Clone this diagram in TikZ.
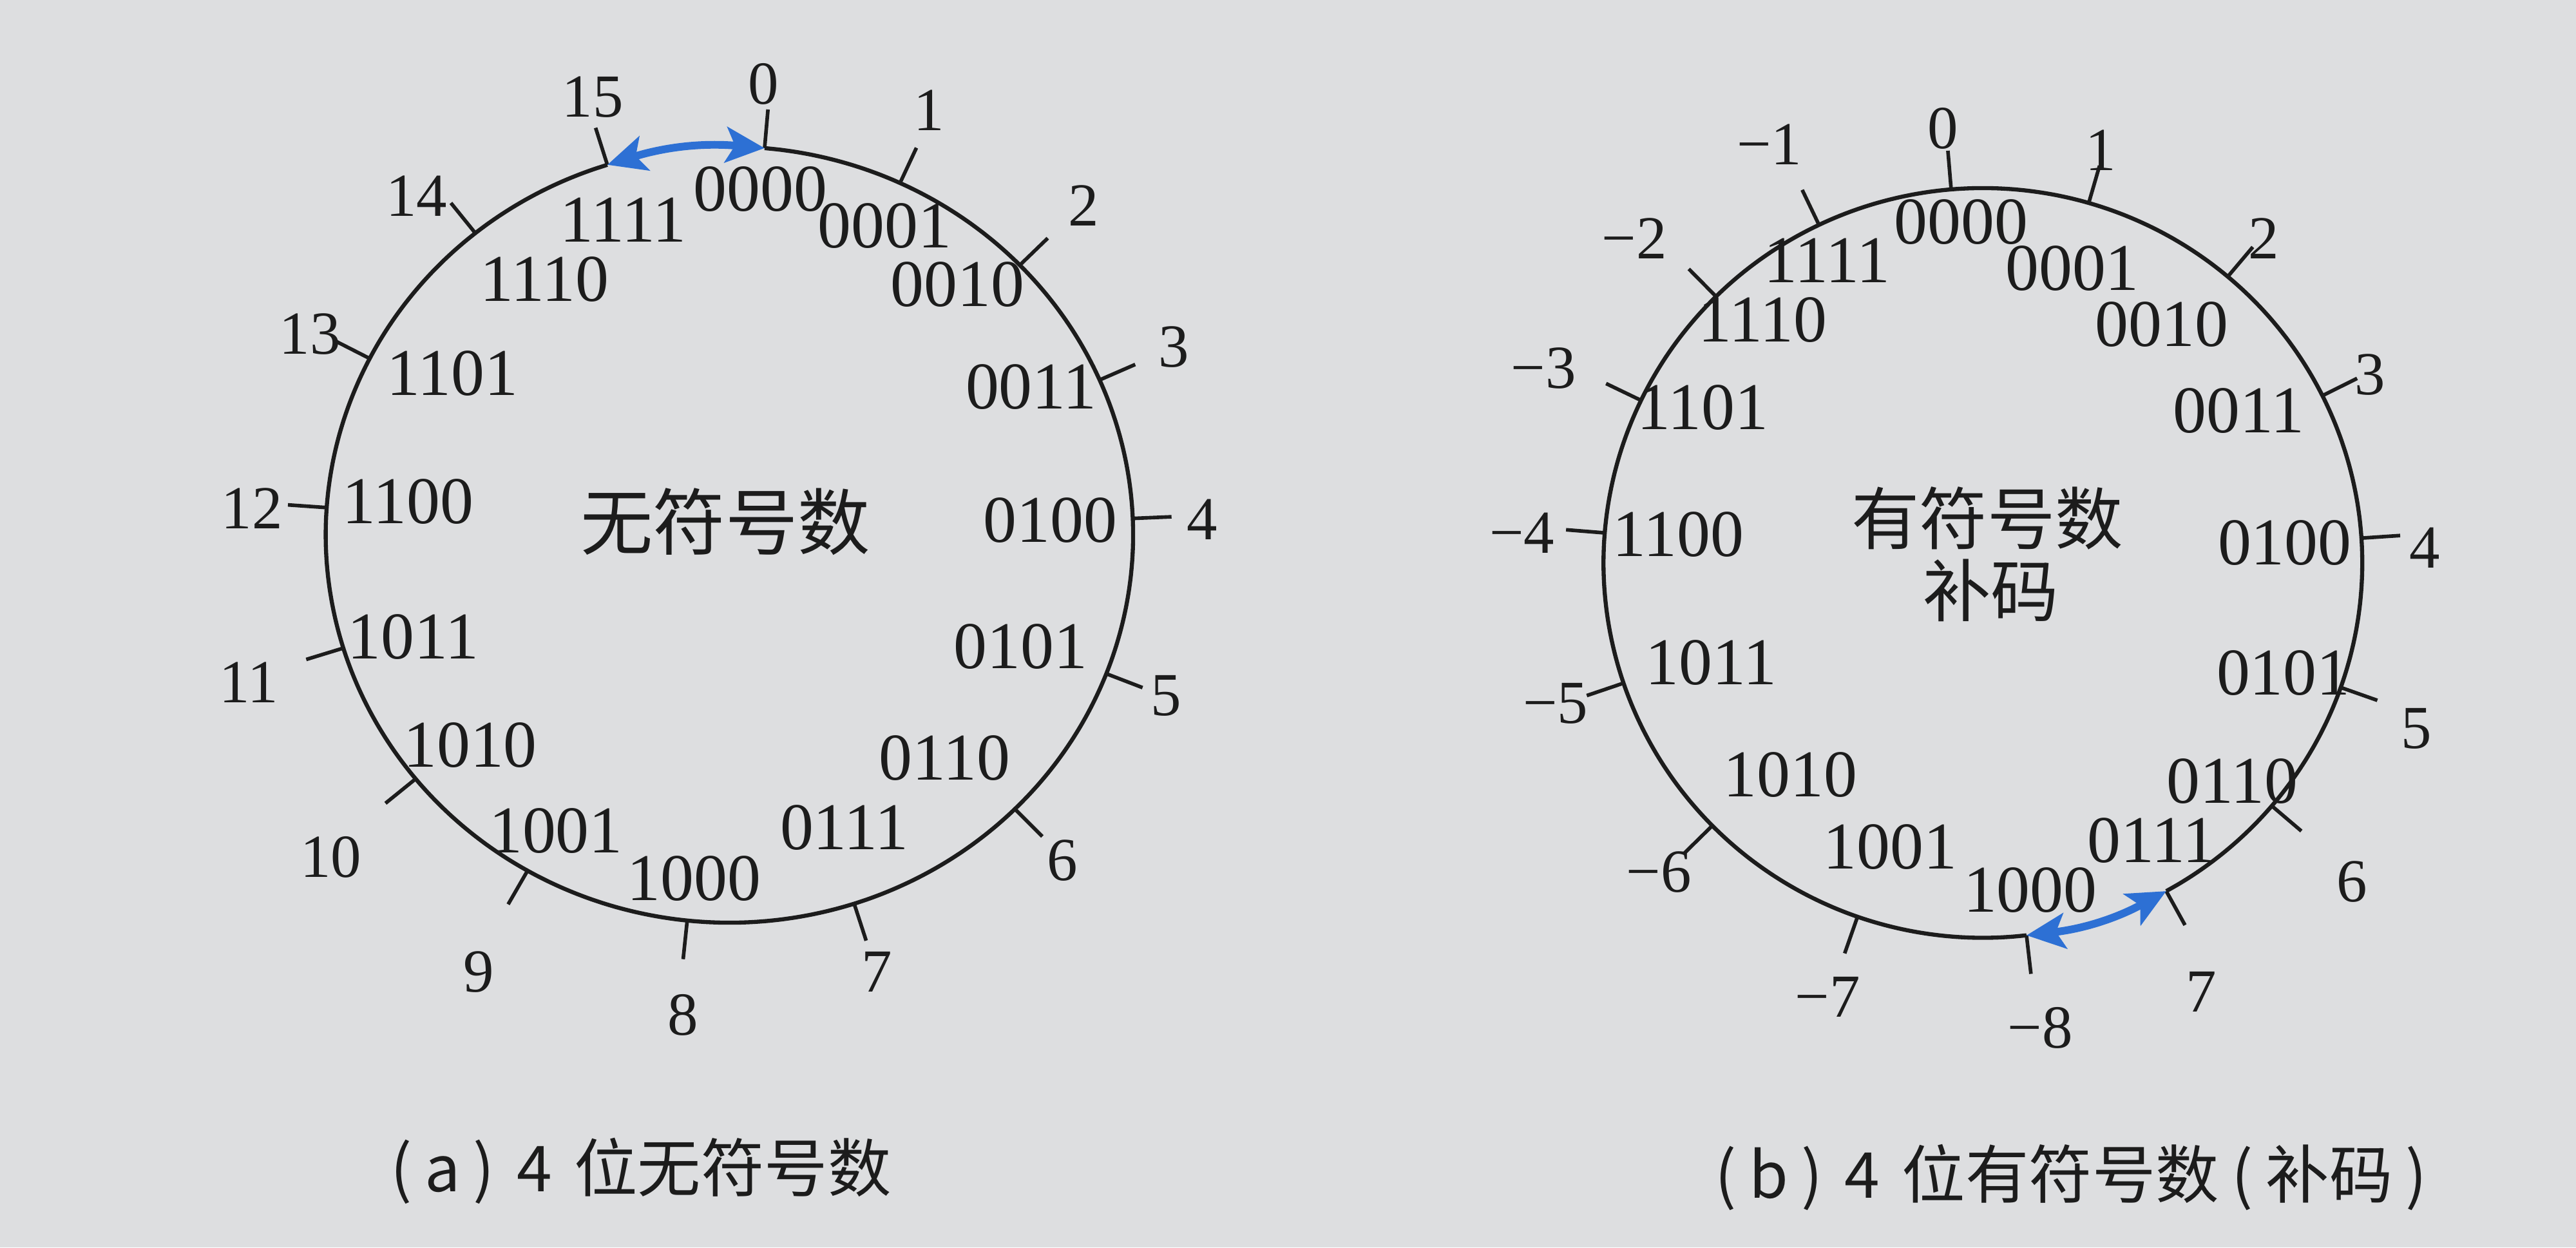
\documentclass[tikz,border=0pt]{standalone}
\usepackage{fontspec}
\setmainfont{Liberation Serif}
\newfontfamily\cjk{Noto Sans CJK SC}
\usetikzlibrary{arrows.meta,calc}
\definecolor{paper}{RGB}{221,222,224}
\definecolor{ink}{RGB}{28,28,28}
\definecolor{arrowblue}{RGB}{45,112,212}
\tikzset{
  ring/.style={draw=ink, line width=1.8pt},
  tickline/.style={draw=ink, line width=1.6pt},
  bin/.style={inner sep=0pt, text=ink, font=\fontsize{29.5}{31}\selectfont},
  val/.style={inner sep=0pt, text=ink, font=\fontsize{27}{29}\selectfont},
  centertext/.style={inner sep=0pt, text=ink, font=\cjk\fontsize{30}{32}\selectfont},
  captext/.style={inner sep=0pt, text=ink, font=\cjk\fontsize{28}{30}\selectfont},
  twoway/.style={draw=arrowblue, line width=3.4pt,
    {Stealth[length=0.6cm,width=0.55cm,inset=0.14cm]}-{Stealth[length=0.6cm,width=0.55cm,inset=0.14cm]}},
}
\begin{document}
\begin{tikzpicture}
\useasboundingbox (0,0) rectangle (39.99,19.36);
\fill[paper] (0,0) rectangle (39.99,19.36);

% ---------- (a) unsigned ----------
\begin{scope}[shift={(3.30,18.36)}, x=0.010204cm, y=-0.010204cm]
  \draw[ring] plot[domain=-252.4:85, samples=160, smooth, variable=\t]
    ({786+614*cos(\t)},{715-590*sin(\t)});
  \foreach \i/\a/\lx/\ly in {0/85/838/30, 1/65/1090/70, 2/44/1325/215, 3/23.5/1462/430,
      4/2.4/1505/692, 5/-21/1450/960, 6/-45/1292/1210, 7/-72/1010/1380,
      8/-96/715/1445, 9/-120/405/1380, 10/-141/180/1205, 11/-163/55/940,
      12/176/60/675, 13/153/148/410, 14/129/310/200, 15/107.6/578/50}{
    \coordinate (L\i) at ({786+614*cos(\a)},{715-590*sin(\a)});
    \coordinate (Lt\i) at ({786+673*cos(\a)},{715-649*sin(\a)});
    \draw[tickline] (L\i) -- (Lt\i);
    \node[val] (Lv\i) at (\lx,\ly) {\i};
  }
  \foreach \b/\x/\y in {0000/833/190, 0001/1022/245, 0010/1133/335, 0011/1245/490,
      0100/1274/693, 0101/1229/885, 0110/1113/1055, 0111/961/1160,
      1000/732/1238, 1001/522/1165, 1010/392/1035, 1011/305/870,
      1100/297/665, 1101/365/470, 1110/505/327, 1111/624/236}{
    \node[bin] (Lb\b) at (\x,\y) {\b};
  }
  \node[centertext, font=\cjk\fontsize{32}{34}\selectfont] (Ltitle) at (780,695) {无符号数};
\end{scope}

% ---------- (b) signed two's complement ----------
\begin{scope}[shift={(23.30,18.36)}, x=0.010204cm, y=-0.010204cm]
  \draw[ring] plot[domain=-61.1:276.6, samples=160, smooth, variable=\t]
    ({733+577*cos(\t)},{758-570*sin(\t)});
  \foreach \i/\a/\lab/\lx/\ly in {0/94.8/0/672/97, 1/73.8/1/912/130, 2/49.8/2/1160/265,
      3/26.5/3/1322/472, 4/3.8/4/1405/735, 5/-19.4/5/1392/1010, 6/-40.4/6/1294/1243,
      7/-61.1/7/1065/1410, 8/-83.4/−8/820/1465, 9/-109.3/−7/497/1418,
      10/-135.5/−6/240/1228, 11/-161.3/−5/83/972, 12/175.4/−4/32/712,
      13/154.3/−3/65/462, 14/134.7/−2/203/265, 15/115.6/−1/408/122}{
    \coordinate (R\i) at ({733+577*cos(\a)},{758-570*sin(\a)});
    \coordinate (Rt\i) at ({733+636*cos(\a)},{758-629*sin(\a)});
    \draw[tickline] (R\i) -- (Rt\i);
    \node[val] (Rv\i) at (\lx,\ly) {\lab};
  }
  \foreach \b/\x/\y in {0000/700/240, 0001/869/310, 0010/1005/395, 0011/1122/527,
      0100/1192/727, 0101/1190/925, 0110/1112/1090, 0111/990/1180,
      1000/805/1255, 1001/592/1190, 1010/440/1080, 1011/320/910,
      1100/270/715, 1101/307/522, 1110/398/388, 1111/496/298}{
    \node[bin] (Rb\b) at (\x,\y) {\b};
  }
  \node[centertext] (Rtitle1) at (740,690) {有符号数};
  \node[centertext] (Rtitle2) at (745,800) {补码};
\end{scope}

% ---------- wrap-around arrows ----------
\draw[twoway] (L15) to[bend left=11] (L0);
\draw[twoway] (R8) to[bend right=11] (R7);

% ---------- captions ----------
\node[captext] (capa) at (9.95,1.19)
  {(\hspace{0.2em}a\hspace{0.2em})\hspace{0.35em}4\hspace{0.35em}位无符号数};
\node[captext] (capb) at (32.15,1.09)
  {(\hspace{0.2em}b\hspace{0.2em})\hspace{0.35em}4\hspace{0.35em}位有符号数\hspace{0.2em}(\hspace{0.2em}补码\hspace{0.2em})};
\end{tikzpicture}
\end{document}
